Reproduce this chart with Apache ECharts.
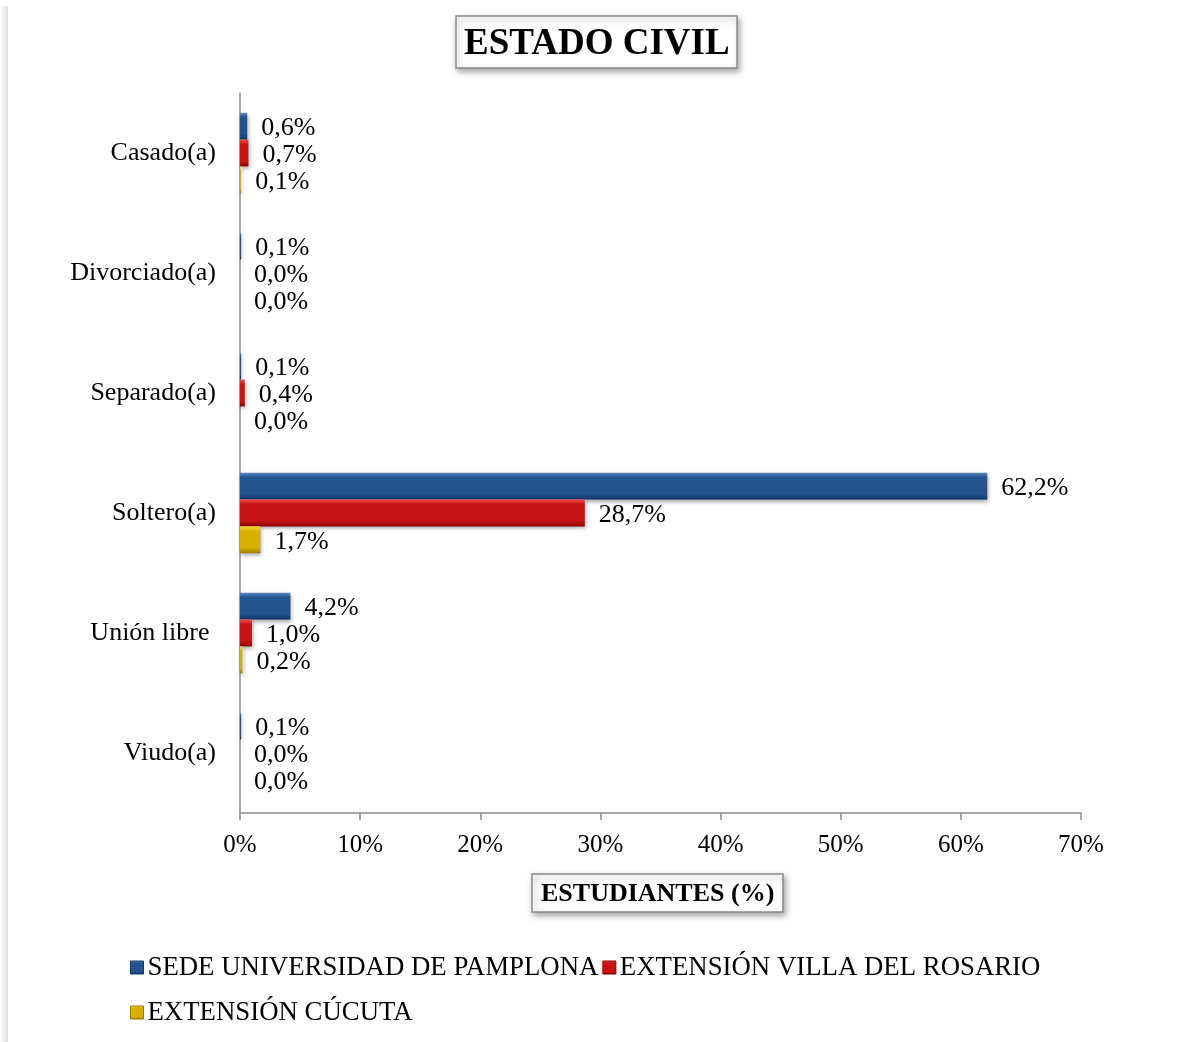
<!DOCTYPE html>
<html>
<head>
<meta charset="utf-8">
<script src="https://cdn.jsdelivr.net/npm/echarts@6/dist/echarts.min.js"></script>
<style>
html,body{margin:0;padding:0;background:#fff;}
#chart{width:1180px;height:1042px;}
</style>
</head>
<body>
<div id="chart"></div>
<script>
var categories = ['Casado(a)', 'Divorciado(a)', 'Separado(a)', 'Soltero(a)', 'Unión libre ', 'Viudo(a)'];
var seriesNames = ['SEDE UNIVERSIDAD DE PAMPLONA', 'EXTENSIÓN VILLA DEL ROSARIO', 'EXTENSIÓN CÚCUTA'];
var pamplona = [0.6, 0.1, 0.1, 62.2, 4.2, 0.1];
var villaRosario = [0.7, 0.0, 0.4, 28.7, 1.0, 0.0];
var cucuta = [0.1, 0.0, 0.0, 1.7, 0.2, 0.0];
var xTicks = [0, 10, 20, 30, 40, 50, 60, 70];

var FONT = "'Times New Roman', 'Liberation Serif', serif";

function grad(top, mid, bot) {
  return new echarts.graphic.LinearGradient(0, 0, 0, 1, [
    {offset: 0, color: top},
    {offset: 0.18, color: mid},
    {offset: 0.8, color: mid},
    {offset: 1, color: bot}
  ]);
}
var colors = [
  grad('#5b86bd', '#23538e', '#0e3262'),
  grad('#f24b4b', '#c81414', '#8c0000'),
  grad('#f7dc3c', '#d8b000', '#9c7c00')
];
var borders = ['#123a6a', '#8a0000', '#9a7a00'];

function mkSeries(i, data) {
  return {
    name: seriesNames[i],
    type: 'bar',
    data: data,
    barGap: '0%',
    barCategoryGap: '33%',
    itemStyle: {
      color: colors[i],
      borderColor: borders[i],
      borderWidth: 0,
      shadowBlur: 4,
      shadowOffsetX: 1,
      shadowOffsetY: 2,
      shadowColor: 'rgba(0,0,0,0.35)'
    },
    label: {
      show: true,
      position: 'right',
      distance: 14,
      offset: [0, 2],
      fontFamily: FONT,
      fontSize: 26,
      color: '#000',
      formatter: function (p) { return p.value.toFixed(1).replace('.', ',') + '%'; }
    }
  };
}

var legendItemStyle = {borderWidth: 1, borderColor: 'inherit', shadowBlur: 0};

var chart = echarts.init(document.getElementById('chart'));
chart.setOption({
  backgroundColor: '#fff',
  animation: false,
  title: [{
    text: 'ESTADO CIVIL',
    left: 456, top: 16,
    padding: [10, 8, 6, 8],
    borderColor: '#8a8a8a', borderWidth: 1.5,
    backgroundColor: '#fff',
    shadowBlur: 6, shadowOffsetX: 2, shadowOffsetY: 3, shadowColor: 'rgba(0,0,0,0.35)',
    textStyle: {fontFamily: FONT, fontSize: 37, fontWeight: 'bold', color: '#000', lineHeight: 36}
  }, {
    text: 'ESTUDIANTES (%)',
    left: 532, top: 874,
    padding: [7, 9, 5, 9],
    borderColor: '#8a8a8a', borderWidth: 1.5,
    backgroundColor: '#fff',
    shadowBlur: 6, shadowOffsetX: 2, shadowOffsetY: 3, shadowColor: 'rgba(0,0,0,0.35)',
    textStyle: {fontFamily: FONT, fontSize: 26, fontWeight: 'bold', color: '#000', lineHeight: 26}
  }],
  legend: [{
    data: [seriesNames[0], seriesNames[1]],
    left: 125, top: 949,
    orient: 'horizontal',
    itemWidth: 13, itemHeight: 13, itemGap: 4,
    icon: 'rect',
    itemStyle: legendItemStyle,
    textStyle: {fontFamily: FONT, fontSize: 26.8, color: '#000', padding: [0, 0, 0, -1]}
  }, {
    data: [seriesNames[2]],
    left: 125, top: 994,
    itemWidth: 13, itemHeight: 13, itemGap: 4,
    icon: 'rect',
    itemStyle: legendItemStyle,
    textStyle: {fontFamily: FONT, fontSize: 26.8, color: '#000', padding: [0, 0, 0, -1]}
  }],
  grid: {left: 240, right: 99, top: 93, bottom: 229, containLabel: false},
  xAxis: {
    type: 'value',
    min: 0, max: 70, interval: 10,
    axisLine: {show: true, lineStyle: {color: '#8c8c8c', width: 1.5}},
    axisTick: {show: true, length: 7, lineStyle: {color: '#8c8c8c', width: 1.5}},
    splitLine: {show: false},
    axisLabel: {
      fontFamily: FONT, fontSize: 25, color: '#000', margin: 20,
      formatter: function (v) { return xTicks.indexOf(v) >= 0 ? v + '%' : ''; }
    }
  },
  yAxis: {
    type: 'category',
    data: categories,
    inverse: true,
    axisLine: {show: true, lineStyle: {color: '#8c8c8c', width: 1.5}},
    axisTick: {show: false},
    axisLabel: {fontFamily: FONT, fontSize: 26, color: '#000', margin: 24, padding: [4, 0, 0, 0]}
  },
  graphic: [{
    type: 'rect',
    shape: {x: 0, y: 6, width: 8, height: 1036},
    style: {fill: new echarts.graphic.LinearGradient(0, 0, 1, 0, [
      {offset: 0, color: 'rgba(0,0,0,0)'},
      {offset: 1, color: 'rgba(0,0,0,0.13)'}
    ])},
    silent: true
  }],
  series: [mkSeries(0, pamplona), mkSeries(1, villaRosario), mkSeries(2, cucuta)]
});
</script>
</body>
</html>
